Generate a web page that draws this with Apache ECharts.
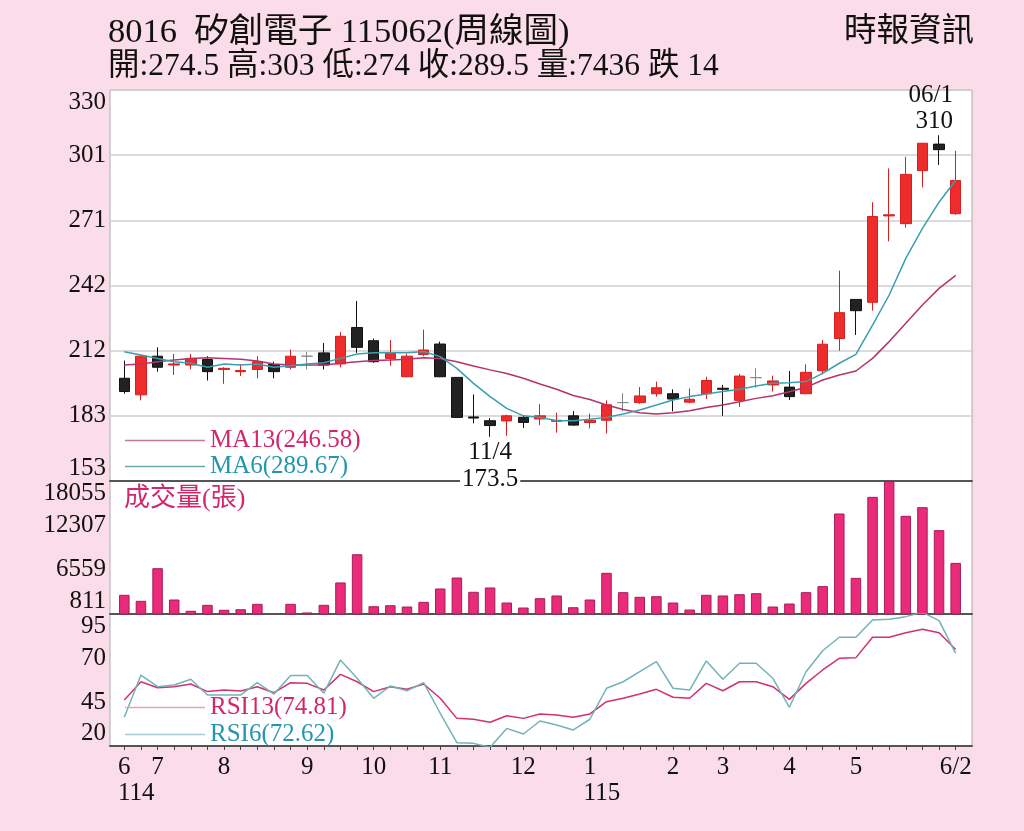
<!DOCTYPE html>
<html>
<head>
<meta charset="utf-8">
<title>8016 矽創電子 周線圖</title>
<script src="https://cdn.jsdelivr.net/npm/echarts@6/dist/echarts.min.js"></script>
<style>
  html, body { margin: 0; padding: 0; background: #fbdde9; }
  #chart { width: 1024px; height: 831px; }
</style>
</head>
<body>
<div id="chart"></div>
<script>
// month marks under the weekly axis (empty = no label)
const weekLabels = [
  '6\n114', '', '7', '', '', '', '8', '', '', '', '',
  '9', '', '', '', '10', '', '', '', '11', '', '', '', '',
  '12', '', '', '', '1\n115', '', '', '', '',
  '2', '', '', '3', '', '', '', '4', '', '', '', '5',
  '', '', '', '', '', '6/2'
]
const opens  = [200, 192.5, 210, 206, 206, 208.5, 204, 203, 204, 206.3, 205, 210, 211.5, 206.5, 223, 217, 209, 200.7, 210.8, 215.5,
  200.4, 182.5, 180.8, 180.7, 182.3, 181.6, 180.5, 183, 180, 181, 189, 189, 193, 193, 189.2, 193, 195.5, 190, 200.3, 197,
  196, 193, 203.4, 218, 235.7, 234.4, 273.5, 270, 294, 306, 274.5]
const closes = [194, 210, 205, 206.5, 209, 203, 204.5, 203.5, 207.5, 203, 210, 210, 206, 219, 214, 207.5, 211.3, 210, 212.8, 200.7,
  182.3, 182, 178.6, 183, 180, 183, 181, 178.8, 181, 188, 189, 192, 195.7, 190.6, 190.5, 199, 195, 201, 200.3, 198.8,
  191.7, 202.7, 215.4, 229.7, 230.6, 273.2, 274, 292.3, 306.4, 303.5, 289.5]
const lows   = [193, 190, 203, 201.5, 204, 199, 197.5, 201, 200, 200, 204, 204, 204, 205, 211.5, 207, 205.7, 200.5, 210, 200.5,
  182, 179.6, 173.5, 174, 177.5, 178.8, 175.4, 178.5, 177.3, 175, 185, 188.5, 191.7, 185, 188.6, 190.6, 183, 187, 195.7, 194,
  190.2, 192.9, 201.8, 212.5, 219.6, 230.6, 262, 268.2, 286.4, 296.6, 274]
const highs  = [208, 210.5, 214, 211, 211, 210, 205, 206.5, 210, 207.5, 213, 212, 216, 221, 235, 218, 217.3, 211, 222, 216.6,
  200.5, 192.7, 182, 183.5, 183, 188.3, 184.4, 185.2, 184, 190, 193.2, 196, 198.5, 195, 195.4, 200.7, 197, 202, 204.5, 201.2,
  203.3, 206.3, 217.3, 248.7, 235.7, 279.7, 295, 300.3, 306.4, 310, 303]
const ma13 = [206, 206.5, 207.5, 208.3, 209, 209.3, 209, 208.6, 207.8, 206.5, 206, 206, 206, 206.8, 207.5, 208, 208.3, 208.6, 209.3, 209,
  207.5, 205.6, 203.8, 202.2, 200, 197.4, 195, 192.2, 190.4, 187.9, 185.9, 184.4, 183.8, 184.4, 185.3, 186.8, 187.9, 189.4, 190.9, 192.1,
  193.9, 195.9, 199.2, 201.5, 203.3, 209, 216.6, 224.9, 233.2, 240.7, 246.58]
const ma6 = [212, 210.5, 209, 207.5, 206.8, 205, 206.5, 206, 206.5, 205, 205.7, 206.5, 207, 209, 211, 211.6, 211.6, 211.6, 212.1, 209.8,
  204.5, 197.7, 191.7, 186.4, 183, 182.3, 180.8, 180.8, 181.4, 182.3, 183.8, 185.6, 187.9, 190.2, 191.7, 192.9, 194, 195, 196.5, 197.7,
  198, 198.5, 202.2, 206.8, 210.8, 224.1, 237.7, 254.3, 267.9, 279.7, 289.67]
const volumes = [3300, 2520, 6750, 2690, 1230, 2000, 1360, 1430, 2130, 811, 2130, 1010, 2000, 4900, 8560, 1820, 1950, 1780, 2390, 4120,
  5540, 3690, 4250, 2300, 1650, 2860, 3210, 1690, 2690, 6150, 3640, 3040, 3120, 2300, 1390, 3300, 3210, 3380, 3510, 1780,
  2170, 3640, 4420, 13840, 5500, 16000, 18055, 13540, 14660, 11680, 7436]
const rsi13 = [46.1, 56.5, 53.1, 53.7, 55.2, 50.9, 51.8, 51.3, 53.7, 50.3, 56, 55.6, 51.8, 60.7, 56.5, 50.9, 53.7, 52.2, 55.2, 47.1,
  35.7, 35.2, 33.5, 37.2, 35.7, 38.2, 37.6, 36.3, 38.2, 45.2, 47.1, 49.5, 52.2, 47.7, 47.1, 55.6, 51.4, 56.5, 56.5, 53.7,
  46.5, 55.6, 63.2, 69.8, 70.2, 81.8, 81.8, 84.4, 86.3, 84.4, 74.81]
const rsi6 = [36.3, 60.3, 53.7, 54.7, 57.9, 49, 49, 49, 56, 49.5, 60, 60, 50, 68.9, 58.5, 47.1, 54.1, 51.4, 56, 38.6,
  21.9, 21.5, 19.3, 30, 26.8, 34.2, 31.9, 29.1, 35.2, 52.8, 56.5, 62.2, 67.9, 52.8, 51.8, 68.3, 57.9, 67, 67, 58.5,
  42, 62.2, 74.1, 81.8, 81.8, 91.6, 92, 93.5, 96, 91.2, 72.62]
const priceTicks = [153.5, 330.5, 29.5]   // min, max, step
const volTicks = [811, 18055, 5748]
const rsiTicks = [20, 95, 25]
const hiDate = '06/1'
const loDate = '11/4'

const FONT = "'Liberation Serif', 'Noto Sans CJK TC', serif"
const last = closes.length - 1
const chg = closes[last] - closes[last - 1]
const infoLine = '開:' + opens[last] + ' 高:' + highs[last] + ' 低:' + lows[last] + ' 收:' + closes[last] +
  ' 量:' + volumes[last] + ' ' + (chg < 0 ? '跌' : '漲') + ' ' + Math.abs(chg)

const candles = opens.map(function (o, i) {
  const item = { value: [o, closes[i], lows[i], highs[i]] }
  if (o === closes[i]) {
    item.itemStyle = { color: '#888', color0: '#888', borderColor: '#888', borderColor0: '#888' }
  }
  return item
})
const hiVal = Math.max.apply(null, highs)
const hiIdx = highs.indexOf(hiVal)
const loVal = Math.min.apply(null, lows)
const loIdx = lows.indexOf(loVal)

const ma13Name = 'MA13(' + ma13[last].toFixed(2) + ')'
const ma6Name = 'MA6(' + ma6[last].toFixed(2) + ')'
const rsi13Name = 'RSI13(' + rsi13[last].toFixed(2) + ')'
const rsi6Name = 'RSI6(' + rsi6[last].toFixed(2) + ')'

const chart = echarts.init(document.getElementById('chart'))

function bgX(idx) {
  return {
    gridIndex: idx, type: 'value', min: 0, max: 1,
    axisLine: { show: true, onZero: false, lineStyle: { color: '#555', width: 2 } },
    axisTick: { show: false }, axisLabel: { show: false }, splitLine: { show: false }
  }
}
function dataX(idx) {
  return { gridIndex: idx, type: 'category', data: weekLabels, show: false }
}
function bgY(idx, t, split) {
  return {
    gridIndex: idx, type: 'value', min: t[0], max: t[1], interval: t[2],
    axisLine: { show: false }, axisTick: { show: false },
    splitLine: { show: split, lineStyle: { color: '#cfcfcf', width: 1.5 } },
    axisLabel: {
      formatter: function (v) { return Math.floor(v) },
      fontSize: 25, fontFamily: FONT, color: '#111', margin: 4,
      verticalAlignMinLabel: 'bottom', verticalAlignMaxLabel: 'top'
    }
  }
}
function dataY(idx, t) {
  return { gridIndex: idx, type: 'value', min: t[0], max: t[1], show: false, splitLine: { show: false } }
}

const option = {
  backgroundColor: '#fbdde9',
  animation: false,
  title: [
    { text: '8016  矽創電子 115062(周線圖)', left: 108, top: 15, padding: 0,
      textStyle: { fontSize: 34.5, lineHeight: 35, fontWeight: 'normal', color: '#111', fontFamily: FONT } },
    { text: infoLine, left: 108, top: 51, padding: 0,
      textStyle: { fontSize: 31.5, lineHeight: 32, fontWeight: 'normal', color: '#111', fontFamily: FONT } },
    { text: '時報資訊', right: 50, top: 16, padding: 0,
      textStyle: { fontSize: 32.5, lineHeight: 33, fontWeight: 'normal', color: '#111', fontFamily: FONT } },
    { text: '成交量(張)', left: 124, top: 486, padding: 0,
      textStyle: { fontSize: 26, lineHeight: 26, fontWeight: 'normal', color: '#d2286b', fontFamily: FONT } }
  ],
  legend: [
    { left: 125, top: 428, padding: 0, orient: 'vertical', icon: 'rect', itemWidth: 80, itemHeight: 1.5, itemGap: 1,
      selectedMode: false, textStyle: { fontSize: 25, lineHeight: 25, fontFamily: FONT },
      data: [
        { name: ma13Name, itemStyle: { color: '#c47a96' }, textStyle: { color: '#d2286b' } },
        { name: ma6Name, itemStyle: { color: '#6aa9b3' }, textStyle: { color: '#2496ad' } }
      ] },
    { left: 125, top: 695, padding: 0, orient: 'vertical', icon: 'rect', itemWidth: 80, itemHeight: 1.5, itemGap: 2,
      selectedMode: false, textStyle: { fontSize: 25, lineHeight: 25, fontFamily: FONT },
      data: [
        { name: rsi13Name, itemStyle: { color: '#e3a3ba' }, textStyle: { color: '#d2286b' } },
        { name: rsi6Name, itemStyle: { color: '#a6cbd0' }, textStyle: { color: '#2496ad' } }
      ] }
  ],
  grid: [
    { left: 110, top: 90, width: 862, height: 391, show: true, backgroundColor: '#fff', borderColor: '#aaa', borderWidth: 1 },
    { left: 116, top: 90, width: 848, height: 391 },
    { left: 110, top: 481, width: 862, height: 133, show: true, backgroundColor: '#fff', borderColor: '#aaa', borderWidth: 1 },
    { left: 116, top: 481, width: 848, height: 133 },
    { left: 110, top: 614, width: 862, height: 132, show: true, backgroundColor: '#fff', borderColor: '#aaa', borderWidth: 1 },
    { left: 116, top: 614, width: 848, height: 132 }
  ],
  xAxis: [
    bgX(0), dataX(1), bgX(2), dataX(3), bgX(4),
    {
      gridIndex: 5, type: 'category', data: weekLabels,
      axisLine: { show: false },
      axisTick: { show: true, alignWithLabel: true, interval: 0, length: 4, lineStyle: { color: '#444' } },
      axisLabel: {
        interval: 0, margin: 8,
        formatter: function (v) {
          if (!v) return ''
          const p = v.split('\n')
          return p.length > 1 ? '{m|' + p[0] + '}\n{y|' + p[1] + '}' : '{m|' + v + '}'
        },
        rich: {
          m: { fontSize: 25, lineHeight: 26, fontFamily: FONT, color: '#111' },
          y: { fontSize: 25, lineHeight: 26, fontFamily: FONT, color: '#111', padding: [0, 0, 0, 24] }
        }
      },
      splitLine: { show: false }
    }
  ],
  yAxis: [
    bgY(0, priceTicks, true), dataY(1, priceTicks),
    bgY(2, volTicks, false), dataY(3, volTicks),
    bgY(4, rsiTicks, false), dataY(5, rsiTicks)
  ],
  series: [
    {
      type: 'candlestick', xAxisIndex: 1, yAxisIndex: 1, data: candles, barWidth: 11,
      itemStyle: { color: '#ee2c2c', color0: '#222', borderColor: '#d61f1f', borderColor0: '#111', borderWidth: 1 },
      markPoint: {
        symbol: 'circle', symbolSize: 0, silent: true, z: 20,
        data: [
          { coord: [hiIdx, hiVal],
            label: { formatter: hiDate + '\n' + hiVal, position: [14, -1], align: 'right', verticalAlign: 'bottom',
              fontSize: 25, lineHeight: 26, fontFamily: FONT, color: '#111' } },
          { coord: [loIdx, loVal],
            label: { formatter: loDate + '\n' + loVal, position: [0, 2], align: 'center', verticalAlign: 'top',
              fontSize: 25, lineHeight: 27, fontFamily: FONT, color: '#111', backgroundColor: '#fff', padding: [0, 2] } }
        ]
      }
    },
    { name: ma13Name, type: 'line', xAxisIndex: 1, yAxisIndex: 1, data: ma13, showSymbol: false,
      lineStyle: { color: '#b5336b', width: 1.5 }, itemStyle: { color: '#b5336b' } },
    { name: ma6Name, type: 'line', xAxisIndex: 1, yAxisIndex: 1, data: ma6, showSymbol: false,
      lineStyle: { color: '#3a9fae', width: 1.5 }, itemStyle: { color: '#3a9fae' } },
    { type: 'bar', xAxisIndex: 3, yAxisIndex: 3, data: volumes, barWidth: 10.5, clip: true,
      itemStyle: { color: '#ea2a7b', borderColor: '#a51d57', borderWidth: 1 } },
    { name: rsi13Name, type: 'line', xAxisIndex: 5, yAxisIndex: 5, data: rsi13, showSymbol: false,
      lineStyle: { color: '#d2306f', width: 1.5 }, itemStyle: { color: '#d2306f' } },
    { name: rsi6Name, type: 'line', xAxisIndex: 5, yAxisIndex: 5, data: rsi6, showSymbol: false,
      lineStyle: { color: '#72b3b9', width: 1.5 }, itemStyle: { color: '#72b3b9' } }
  ]
}
chart.setOption(option)
</script>
</body>
</html>
